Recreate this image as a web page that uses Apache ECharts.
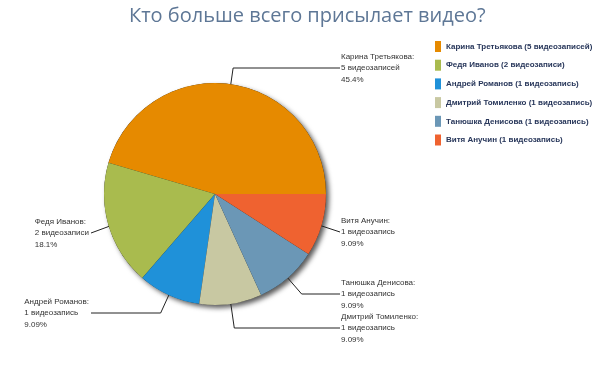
<!DOCTYPE html>
<html>
<head>
<meta charset="utf-8">
<script src="https://cdn.jsdelivr.net/npm/echarts@6/dist/echarts.min.js"></script>
<style>
html,body{margin:0;padding:0;background:#fff;}
#chart{width:604px;height:378px;}
</style>
</head>
<body>
<div id="chart"></div>
<script>
const titleText = 'Кто больше всего присылает видео?';
const names = ['Карина Третьякова', 'Федя Иванов', 'Андрей Романов', 'Дмитрий Томиленко', 'Танюшка Денисова', 'Витя Анучин'];
const values = [5, 2, 1, 1, 1, 1];
const colors = ['#e68a00', '#a9bb4e', '#1f91d9', '#c8c8a2', '#6b97b6', '#ef6230'];

function plural(n) {
  const m10 = n % 10, m100 = n % 100;
  if (m10 === 1 && m100 !== 11) return 'видеозапись';
  if (m10 >= 2 && m10 <= 4 && (m100 < 12 || m100 > 14)) return 'видеозаписи';
  return 'видеозаписей';
}
function fmtPct(p) {
  const d = p >= 10 ? 1 : 2;
  const f = Math.pow(10, d);
  return (Math.floor(p * f + 1e-9) / f).toFixed(d) + '%';
}

const CX = 215, CY = 194, R = 111;
// label anchor positions (layout only)
const anchors = [[340, 68], [91, 233], [91, 313], [340, 328], [340, 294], [340, 232]];

const total = values.reduce((a, b) => a + b, 0);
const mids = [];
(function () {
  let acc = 0;
  values.forEach(v => {
    const a0 = acc / total * 360, a1 = (acc + v) / total * 360;
    mids.push((a0 + a1) / 2 * Math.PI / 180);
    acc += v;
  });
})();

const chart = echarts.init(document.getElementById('chart'));
chart.setOption({
  animation: false,
  title: {
    text: titleText,
    left: 124, top: 1,
    textStyle: { fontFamily: 'Open Sans', fontSize: 20, fontWeight: 'normal', color: '#5e7796' }
  },
  legend: {
    orient: 'vertical',
    left: 435, top: 41, padding: 0,
    icon: 'rect',
    itemWidth: 6, itemHeight: 11, itemGap: 7.7,
    data: names,
    formatter: name => {
      const i = names.indexOf(name);
      return name + ' (' + values[i] + ' ' + plural(values[i]) + ')';
    },
    textStyle: { fontFamily: 'Liberation Sans', fontSize: 8, fontWeight: 'bold', color: '#27365a' }
  },
  series: [
    {
      type: 'pie',
      silent: true,
      z: 1,
      center: [CX, CY], radius: R,
      label: { show: false }, labelLine: { show: false },
      itemStyle: { color: '#1a1a1a', shadowBlur: 5, shadowOffsetX: 3, shadowOffsetY: 3, shadowColor: 'rgba(0,0,0,0.65)' },
      data: [{ value: total, name: '' }],
      legendHoverLink: false
    },
    {
      type: 'pie',
      z: 2,
      center: [CX, CY], radius: R,
      startAngle: 0, clockwise: false,
      color: colors,
      data: names.map((n, i) => ({ name: n, value: values[i] })),
      label: {
        show: true,
        overflow: 'none',
        fontFamily: 'Liberation Sans', fontSize: 8, lineHeight: 11.5, color: '#333',
        align: 'left',
        formatter: p => p.name + ':\n' + p.value + ' ' + plural(p.value) + '\n' + fmtPct(p.percent)
      },
      labelLine: { show: true, lineStyle: { color: '#222', width: 1 } },
      labelLayout: params => {
        const i = params.dataIndex;
        const a = mids[i];
        const dx = Math.cos(a), dy = -Math.sin(a);
        const sx = CX + R * 0.84 * dx, sy = CY + R * 0.84 * dy;
        const [ax, ay] = anchors[i];
        const t = (ay - sy) / dy;
        let ex = sx + t * dx;
        const right = ax > CX;
        if (right && ex > ax) ex = ax;
        if (!right && ex < ax) ex = ax;
        const w = params.labelRect.width;
        return {
          x: right ? ax + 1 : ax - 2 - w,
          y: ay,
          align: 'left',
          verticalAlign: 'middle',
          labelLinePoints: [[sx, sy], [ex, ay], [ax, ay]]
        };
      }
    }
  ]
});
</script>
</body>
</html>
